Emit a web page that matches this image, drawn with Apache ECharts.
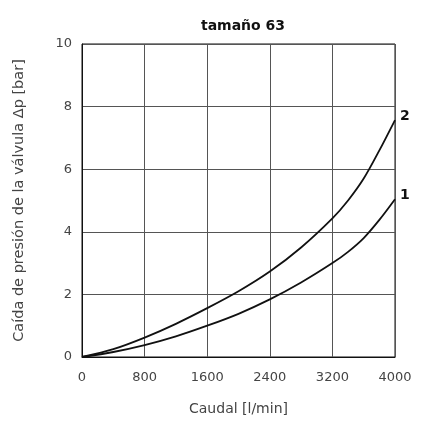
<!DOCTYPE html>
<html><head><meta charset="utf-8">
<script src="https://cdn.jsdelivr.net/npm/echarts@6/dist/echarts.min.js"></script>
<style>html,body{margin:0;padding:0;background:#fff}#c{width:421px;height:421px}</style>
</head><body><div id="c"></div>
<script>
const flow = [0, 400, 800, 1200, 1600, 2000, 2400, 2800, 3200, 3400, 3600, 3800, 4000];
const curve1 = [0, 0.16, 0.38, 0.66, 1.0, 1.38, 1.84, 2.38, 3.0, 3.36, 3.8, 4.38, 5.04];
const curve2 = [0, 0.25, 0.62, 1.06, 1.56, 2.1, 2.73, 3.5, 4.43, 5.0, 5.7, 6.6, 7.57];
const xTicks = [0, 800, 1600, 2400, 3200, 4000];
const yTicks = [0, 2, 4, 6, 8, 10];
const labels = ['1', '2'];
const font = 'DejaVu Sans, sans-serif';
const chart = echarts.init(document.getElementById('c'));
function pts(ys){ return flow.map((x,i)=>[x, ys[i]]); }
function endLabel(txt){
  return {show:true, formatter:txt, fontFamily:font, fontWeight:'bold', fontSize:14, color:'#111', distance:5, offset:[0,-4]};
}
chart.setOption({
  animation:false,
  title:{text:'tamaño 63', left:238, top:14, textAlign:'center',
    textStyle:{fontFamily:font, fontWeight:'bold', fontSize:14, color:'#111'}},
  grid:{left:82, top:44, width:313, height:313, show:true, borderColor:'#111', borderWidth:1},
  xAxis:{type:'value', min:0, max:4000, interval:800,
    name:'Caudal [l/min]', nameLocation:'middle', nameGap:45,
    nameTextStyle:{fontFamily:font, fontSize:14, color:'#444'},
    axisLine:{show:true, lineStyle:{color:'#111'}}, axisTick:{show:false},
    axisLabel:{fontFamily:font, fontSize:13, color:'#444', margin:14,
      formatter:v=>xTicks.includes(v)?String(v):''},
    splitLine:{show:true, lineStyle:{color:'#555', width:1}}},
  yAxis:{type:'value', min:0, max:10, interval:2,
    name:'Caída de presión de la válvula Δp [bar]', nameLocation:'middle', nameGap:55,
    nameTextStyle:{fontFamily:font, fontSize:14.5, color:'#444'},
    axisLine:{show:true, lineStyle:{color:'#111'}}, axisTick:{show:false},
    axisLabel:{fontFamily:font, fontSize:13, color:'#444', margin:10,
      formatter:v=>yTicks.includes(v)?String(v):''},
    splitLine:{show:true, lineStyle:{color:'#555', width:1}}},
  series:[
    {type:'line', data:pts(curve1), smooth:0.3, symbol:'none', lineStyle:{color:'#111', width:1.8},
      endLabel:endLabel(labels[0])},
    {type:'line', data:pts(curve2), smooth:0.3, symbol:'none', lineStyle:{color:'#111', width:1.8},
      endLabel:endLabel(labels[1])}
  ]
});
</script></body></html>
